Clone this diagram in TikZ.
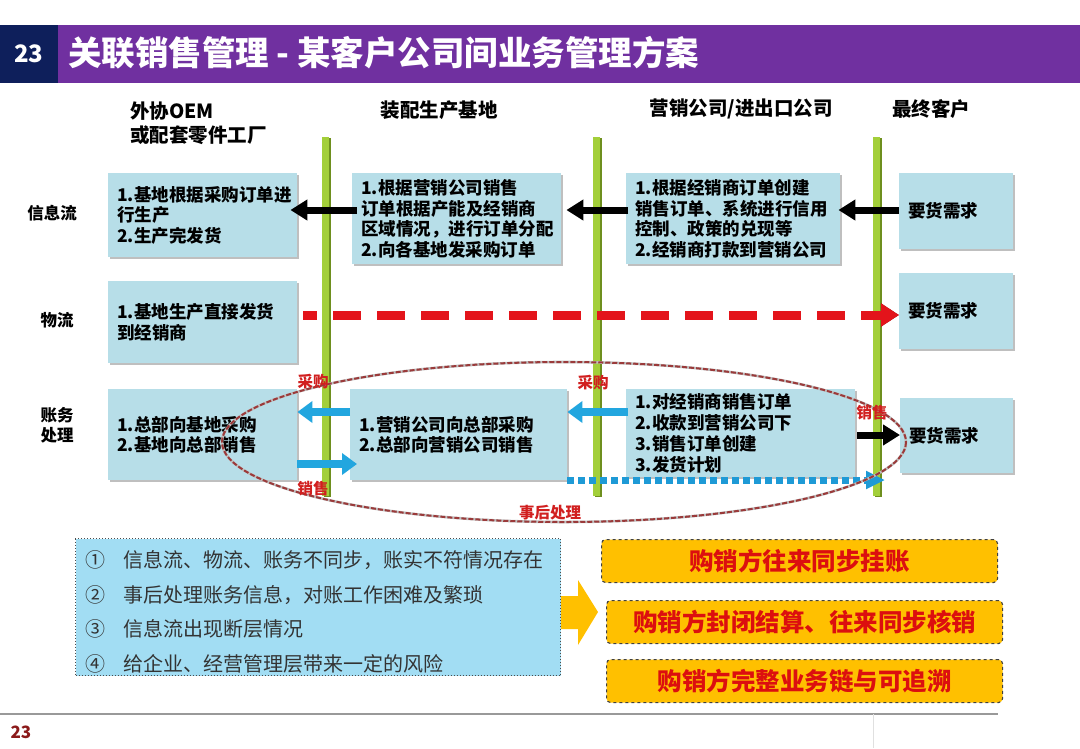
\documentclass[tikz,border=0pt]{standalone}
\usepackage{fontspec}
\setmainfont{Noto Sans CJK SC}
\usepackage{tikz}
\usetikzlibrary{positioning, calc, arrows.meta, shadows}
\definecolor{titlepurple}{HTML}{7030A0}
\definecolor{titlenavy}{HTML}{0E1F5B}
\definecolor{cellblue}{HTML}{B7DEE8}
\definecolor{lanegreen}{HTML}{A3CF3A}
\definecolor{laneedge}{HTML}{6E8F1E}
\definecolor{flowred}{HTML}{E3141B}
\definecolor{flowshade}{HTML}{7A0A0A}
\definecolor{acctblue}{HTML}{22A6DF}
\definecolor{dotblue}{HTML}{1E9AD6}
\definecolor{labelred}{HTML}{D11F1F}
\definecolor{noteblue}{HTML}{A2DDF3}
\definecolor{goldbox}{HTML}{FFC000}
\definecolor{goldtext}{HTML}{DC0F0F}
\definecolor{ringred}{HTML}{9B3A3A}
\definecolor{footred}{HTML}{8B1A1A}

\begin{document}
\begin{tikzpicture}[
  x=1pt, y=-1pt,
  cell/.style={fill=cellblue, anchor=north west, inner xsep=9pt, inner ysep=0pt, align=left, font=\fontsize{17.5}{20.5}\selectfont\bfseries, drop shadow={shadow xshift=2pt, shadow yshift=-2pt, fill=black!45, opacity=0.55}},
  rowlab/.style={align=center, inner sep=0pt, font=\fontsize{16.5}{20}\selectfont\bfseries},
  colhead/.style={inner sep=0pt, font=\fontsize{19.5}{24}\selectfont\bfseries},
  tag/.style={inner sep=0pt, text=labelred, font=\fontsize{15.5}{18}\selectfont\bfseries},
  goal/.style={draw=black!75, dashed, line width=1.1pt, fill=goldbox, rounded corners=4pt, anchor=north west, minimum width=396pt, minimum height=43pt, text=goldtext, font=\fontsize{24.5}{28}\selectfont\bfseries},
  blkarrow/.style={draw=black, line width=7pt, -{Triangle[length=17pt, width=20pt]}},
  bluarrow/.style={draw=acctblue, line width=8pt, -{Triangle[length=15pt, width=21pt]}},
  >=Stealth
]
  \useasboundingbox (0,0) rectangle (1080,748);
  \fill[white] (0,0) rectangle (1080,748);

  % Title bar
  \fill[titlepurple] (58,25) rectangle (1080,83);
  \fill[titlenavy] (0,25) rectangle (58,83);
  \node[text=white, inner sep=0pt, font=\fontsize{24}{28}\selectfont\bfseries] (pgno) at (29,54) {23};
  \node[anchor=west, text=white, inner sep=0pt, font=\fontsize{33.5}{38}\selectfont\bfseries] (title) at (68,53) {关联销售管理 - 某客户公司间业务管理方案};

  % Column headers
  \node[colhead, anchor=west, align=left] (oem) at (130,123) {外协OEM\\或配套零件工厂};
  \node[colhead] (base) at (439,110) {装配生产基地};
  \node[colhead] (sales) at (741,109) {营销公司/进出口公司};
  \node[colhead] (client) at (931,109) {最终客户};

  % Swim lanes
  \foreach \lx in {326, 597, 877} {
    \fill[laneedge] (\lx-2.5,138) rectangle (\lx+4.5,497);
    \fill[lanegreen] (\lx-4,137) rectangle (\lx+3,496);
  }

  % Row labels
  \node[rowlab] (info) at (52,213) {信息流};
  \node[rowlab] (goods) at (57,320) {物流};
  \node[rowlab] (acct) at (57,425) {账务\\处理};

  % Guide rows for connectors
  \coordinate (r1) at (0,210);
  \coordinate (r2) at (0,315);
  \coordinate (r3) at (0,412);
  \coordinate (r4) at (0,464);
  \coordinate (r5) at (0,480);
  \coordinate (r6) at (0,435);

  % Information flow
  \node[cell, text width=171, minimum height=84] (a1) at (108,173) {1.基地根据采购订单进\\行生产\\2.生产完发货};
  \node[cell, text width=191, minimum height=91] (a2) at (352,173) {1.根据营销公司销售\\订单根据产能及经销商\\区域情况，进行订单分配\\2.向各基地发采购订单};
  \node[cell, text width=196, minimum height=91] (a3) at (626,173) {1.根据经销商订单创建\\销售订单、系统进行信用\\控制、政策的兑现等\\2.经销商打款到营销公司};
  \node[cell, text width=96, minimum height=76] (a4) at (899,173) {要货需求};

  % Logistics
  \node[cell, text width=171, minimum height=82] (b1) at (108,281) {1.基地生产直接发货\\到经销商};
  \node[cell, text width=96, minimum height=76] (b4) at (899,273) {要货需求};

  % Accounting
  \node[cell, text width=171, minimum height=91] (c1) at (108,389) {1.总部向基地采购\\2.基地向总部销售};
  \node[cell, text width=199, minimum height=91] (c2) at (350,389) {1.营销公司向总部采购\\2.总部向营销公司销售};
  \node[cell, text width=211, minimum height=88, font=\fontsize{17.5}{21}\selectfont\bfseries] (c3) at (626,389) {1.对经销商销售订单\\2.收款到营销公司下\\3.销售订单创建\\3.发货计划};
  \node[cell, text width=95, minimum height=75] (c4) at (900,398) {要货需求};

  % Arrows: information flow
  \draw[blkarrow, shorten <=-5pt, shorten >=-7pt] (a2.west |- r1) -- (a1.east |- r1);
  \draw[blkarrow, shorten <=-2pt, shorten >=5pt] (a3.west |- r1) -- (a2.east |- r1);
  \draw[blkarrow, shorten >=-2pt] (a4.west |- r1) -- (a3.east |- r1);

  % Arrows: logistics (dashed red)
  \draw[flowshade, line width=9pt, dash pattern=on 28pt off 16pt, dash phase=14pt, -{Triangle[length=18pt, width=22pt]}, shorten <=6pt, xshift=1.5pt, yshift=-1.5pt] (b1.east |- r2) -- (b4.west |- r2);
  \draw[flowred, line width=9pt, dash pattern=on 28pt off 16pt, dash phase=14pt, -{Triangle[length=18pt, width=22pt]}, shorten <=6pt] (b1.east |- r2) -- (b4.west |- r2);

  % Arrows: accounting
  \draw[bluarrow] (c2.west |- r3) -- (c1.east |- r3);
  \draw[bluarrow, shorten >=-7pt] (c1.east |- r4) -- (c2.west |- r4);
  \draw[bluarrow, shorten <=-2pt] (c3.west |- r3) -- (c2.east |- r3);
  \draw[blkarrow, shorten <=2pt] (c3.east |- r6) -- (c4.west |- r6);
  \draw[dotblue, line width=7pt, dash pattern=on 7pt off 4pt, -{Triangle[length=19pt, width=17pt]}, shorten >=15pt] (c2.east |- r5) -- (c4.west |- r5);

  % After-the-fact loop
  \draw[black!25, line width=2.6pt] (564,442) ellipse [x radius=342, y radius=80];
  \draw[ringred, line width=2pt, dash pattern=on 5pt off 2pt] (564,442) ellipse [x radius=342, y radius=80];
  \node[tag] (buy1) at (313,382) {采购};
  \node[tag] (sell1) at (313,489) {销售};
  \node[tag] (buy2) at (593,383) {采购};
  \node[tag] (sell2) at (872,413) {销售};
  \node[tag] (post) at (550,513) {事后处理};

  % Problems and goals
  \fill[goldbox] (552,596) -- (578,596) -- (578,580) -- (598,612) -- (578,645) -- (578,629) -- (552,629) -- cycle;
  \node[draw=black!70, dotted, line width=1pt, fill=noteblue, anchor=north west, minimum width=485, minimum height=137] (notes) at (75,538) {};
  \node[anchor=west, inner sep=0pt, text width=465, align=left, text=black!80, font=\fontsize{20}{34.5}\selectfont] (notetext) at (85,612)
    {\makebox[38pt][l]{①}信息流、物流、账务不同步，账实不符情况存在\\
     \makebox[38pt][l]{②}事后处理账务信息，对账工作困难及繁琐\\
     \makebox[38pt][l]{③}信息流出现断层情况\\
     \makebox[38pt][l]{④}给企业、经营管理层带来一定的风险};
  \node[goal] (goal1) at (601,539) {购销方往来同步挂账};
  \node[goal] (goal2) at (606,600) {购销方封闭结算、往来同步核销};
  \node[goal] (goal3) at (606,659) {购销方完整业务链与可追溯};

  % Footer
  \draw[black!40, line width=1.2pt] (0,714) -- (998,714);
  \draw[black!12, line width=0.8pt] (873,714) -- (873,748);
  \node[text=footred, inner sep=0pt, font=\fontsize{17}{20}\selectfont\bfseries] (footno) at (21,732) {23};
\end{tikzpicture}
\end{document}
